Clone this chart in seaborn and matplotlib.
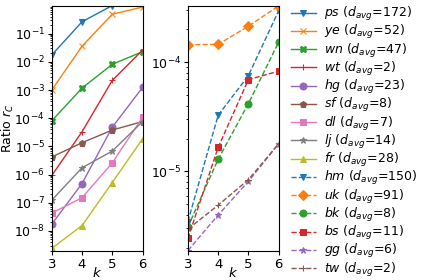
import matplotlib
matplotlib.use("Agg")
import matplotlib.pyplot as plt
import seaborn as sns

plt.rcParams["font.size"] = 9.5
plt.rcParams["ytick.labelsize"] = 9
plt.rcParams["xtick.major.size"] = 3
plt.rcParams["ytick.major.size"] = 3
plt.rcParams["ytick.minor.size"] = 1.8
plt.rcParams["xtick.major.pad"] = 2
plt.rcParams["ytick.major.pad"] = 2

ks = [3, 4, 5, 6]

# left panel: dense graphs
left_names = ["ps", "ye", "wn", "wt", "hg", "sf", "dl", "lj", "fr"]
left_davg = [172, 52, 47, 2, 23, 8, 7, 14, 28]
left_markers = ["v", "x", "X", "+", "o", "p", "s", "*", "^"]
left_values = [
    [1.76e-2, 0.265, 1.0, 1.0],
    [1.0e-3, 0.036, 0.49, 0.88],
    [8.1e-5, 1.17e-3, 8.2e-3, 0.023],
    [9.3e-7, 3.3e-5, 2.2e-3, 0.026],
    [1.74e-8, 4.8e-7, 4.8e-5, 1.23e-3],
    [4.2e-6, 1.35e-5, 3.8e-5, 7.6e-5],
    [4.3e-8, 1.5e-7, 2.6e-6, 1.07e-4],
    [1.23e-7, 1.74e-6, 6.8e-6, 7.6e-5],
    [2.4e-9, 1.55e-8, 5.2e-7, 1.86e-5],
]

# right panel: sparse graphs
right_names = ["hm", "uk", "bk", "bs", "gg", "tw"]
right_davg = [150, 91, 8, 11, 6, 2]
right_markers = ["v", "D", "o", "s", "*", "+"]
right_values = [
    [3.47e-6, 3.27e-5, 7.55e-5, 2.96e-4],
    [1.45e-4, 1.46e-4, 2.14e-4, 3.29e-4],
    [3.1e-6, 1.29e-5, 4.18e-5, 1.53e-4],
    [2.43e-6, 1.66e-5, 6.93e-5, 8.3e-5],
    [1.88e-6, 3.98e-6, 8.1e-6, 1.79e-5],
    [2.96e-6, 4.9e-6, 8.4e-6, 1.79e-5],
]

palette = sns.color_palette("tab10")

fig, axes = plt.subplots(1, 2, figsize=(4.28, 2.8), dpi=100)
fig.subplots_adjust(left=0.121, right=0.651, top=0.979, bottom=0.105, wspace=0.5)


def draw(ax, names, davg, markers, values, ls):
    for i, name in enumerate(names):
        sns.lineplot(x=ks, y=values[i], ax=ax, color=palette[i], marker=markers[i],
                     markersize=5, linewidth=1, linestyle=ls, markeredgecolor=palette[i],
                     label=r"$%s$ ($d_{avg}$=%d)" % (name, davg[i]))
    ax.set_yscale("log")
    ax.set_xlim(3, 6)
    ax.set_xticks(ks)
    ax.set_xlabel("$k$", labelpad=-3)
    ax.get_legend().remove()


draw(axes[0], left_names, left_davg, left_markers, left_values, "-")
draw(axes[1], right_names, right_davg, right_markers, right_values, "--")

axes[0].set_ylim(2.0e-9, 0.97)
axes[1].set_ylim(1.88e-6, 3.29e-4)
axes[0].set_ylabel("Ratio $r_C$", fontsize=9)
axes[0].yaxis.set_label_coords(-0.395, 0.5)

handles, labels = [], []
for ax in axes:
    h, l = ax.get_legend_handles_labels()
    handles += h
    labels += l
fig.legend(handles, labels, loc="upper left", bbox_to_anchor=(0.668, 1.0),
           frameon=False, fontsize=9, handlelength=2.0, labelspacing=0.02,
           borderaxespad=0, handletextpad=0.65)

fig.savefig("out.png", dpi=100)
